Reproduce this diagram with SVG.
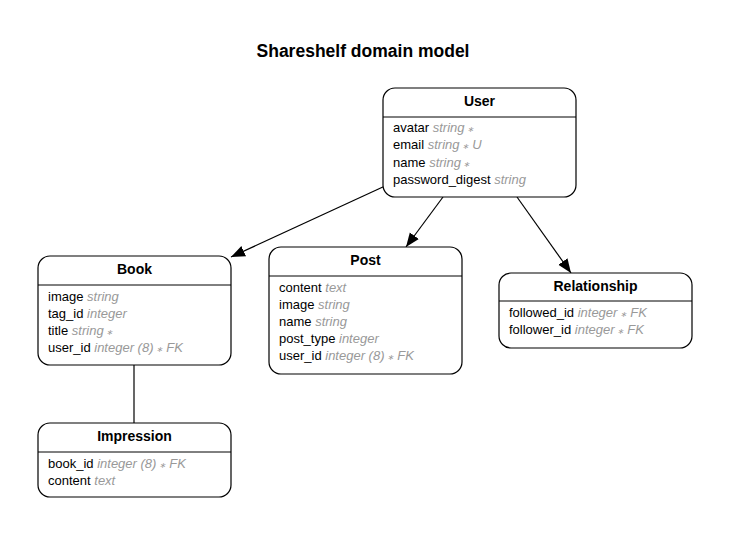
<svg xmlns="http://www.w3.org/2000/svg" width="730" height="537" viewBox="0 0 730 537">
<defs>
<marker id="arr" viewBox="0 0 10 10" refX="10" refY="5" markerWidth="14" markerHeight="14" markerUnits="userSpaceOnUse" orient="auto">
<path d="M0,1 L10,5 L0,9 z" fill="#000"/>
</marker>
<style>
text{font-family:"Liberation Sans",Arial,sans-serif;}
.box{fill:#fff;stroke:#000;stroke-width:1.2;}
.sep{stroke:#000;stroke-width:1;}
.hd{font-size:14px;font-weight:bold;text-anchor:middle;}
.row{font-size:13px;fill:#000;}
.t{fill:#999;font-style:italic;}
.s{font-size:8px;}
.edge{stroke:#000;stroke-width:1.2;fill:none;}
.title{font-size:17.5px;font-weight:bold;text-anchor:middle;}
</style>
</defs>
<rect width="730" height="537" fill="#fff"/>
<text class="title" x="363" y="57">Shareshelf domain model</text>
<g id="connectors">
<line class="edge" x1="385" y1="186" x2="231" y2="257" marker-end="url(#arr)"/>
<line class="edge" x1="443" y1="197" x2="406" y2="247" marker-end="url(#arr)"/>
<line class="edge" x1="517" y1="197" x2="571" y2="273" marker-end="url(#arr)"/>
<line class="edge" x1="134" y1="365" x2="134" y2="423"/>
</g>
<g id="user">
<rect class="box" x="383" y="88" width="193" height="109" rx="12"/>
<line class="sep" x1="383" y1="117" x2="576" y2="117"/>
<text class="hd" x="479.5" y="106">User</text>
<text class="row" x="393" y="131.5">avatar <tspan class="t">string</tspan><tspan class="t s"> ∗</tspan></text>
<text class="row" x="393" y="149">email <tspan class="t">string</tspan><tspan class="t s"> ∗</tspan><tspan class="t"> U</tspan></text>
<text class="row" x="393" y="166.5">name <tspan class="t">string</tspan><tspan class="t s"> ∗</tspan></text>
<text class="row" x="393" y="184">password_digest <tspan class="t">string</tspan></text>
</g>
<g id="book">
<rect class="box" x="38" y="256" width="193" height="109" rx="12"/>
<line class="sep" x1="38" y1="285" x2="231" y2="285"/>
<text class="hd" x="134.5" y="274">Book</text>
<text class="row" x="48" y="300.5">image <tspan class="t">string</tspan></text>
<text class="row" x="48" y="317.5">tag_id <tspan class="t">integer</tspan></text>
<text class="row" x="48" y="334.5">title <tspan class="t">string</tspan><tspan class="t s"> ∗</tspan></text>
<text class="row" x="48" y="351.5">user_id <tspan class="t">integer (8)</tspan><tspan class="t s"> ∗</tspan><tspan class="t"> FK</tspan></text>
</g>
<g id="post">
<rect class="box" x="269" y="247" width="193" height="127" rx="12"/>
<line class="sep" x1="269" y1="276" x2="462" y2="276"/>
<text class="hd" x="365.5" y="265">Post</text>
<text class="row" x="279" y="291.5">content <tspan class="t">text</tspan></text>
<text class="row" x="279" y="308.5">image <tspan class="t">string</tspan></text>
<text class="row" x="279" y="325.5">name <tspan class="t">string</tspan></text>
<text class="row" x="279" y="343">post_type <tspan class="t">integer</tspan></text>
<text class="row" x="279" y="360">user_id <tspan class="t">integer (8)</tspan><tspan class="t s"> ∗</tspan><tspan class="t"> FK</tspan></text>
</g>
<g id="relationship">
<rect class="box" x="499" y="273" width="193" height="75" rx="12"/>
<line class="sep" x1="499" y1="301" x2="692" y2="301"/>
<text class="hd" x="595.5" y="291">Relationship</text>
<text class="row" x="509" y="316.5">followed_id <tspan class="t">integer</tspan><tspan class="t s"> ∗</tspan><tspan class="t"> FK</tspan></text>
<text class="row" x="509" y="333.5">follower_id <tspan class="t">integer</tspan><tspan class="t s"> ∗</tspan><tspan class="t"> FK</tspan></text>
</g>
<g id="impression">
<rect class="box" x="38" y="423" width="193" height="74" rx="12"/>
<line class="sep" x1="38" y1="452" x2="231" y2="452"/>
<text class="hd" x="134.5" y="441">Impression</text>
<text class="row" x="48" y="467.5">book_id <tspan class="t">integer (8)</tspan><tspan class="t s"> ∗</tspan><tspan class="t"> FK</tspan></text>
<text class="row" x="48" y="484.5">content <tspan class="t">text</tspan></text>
</g>
</svg>
